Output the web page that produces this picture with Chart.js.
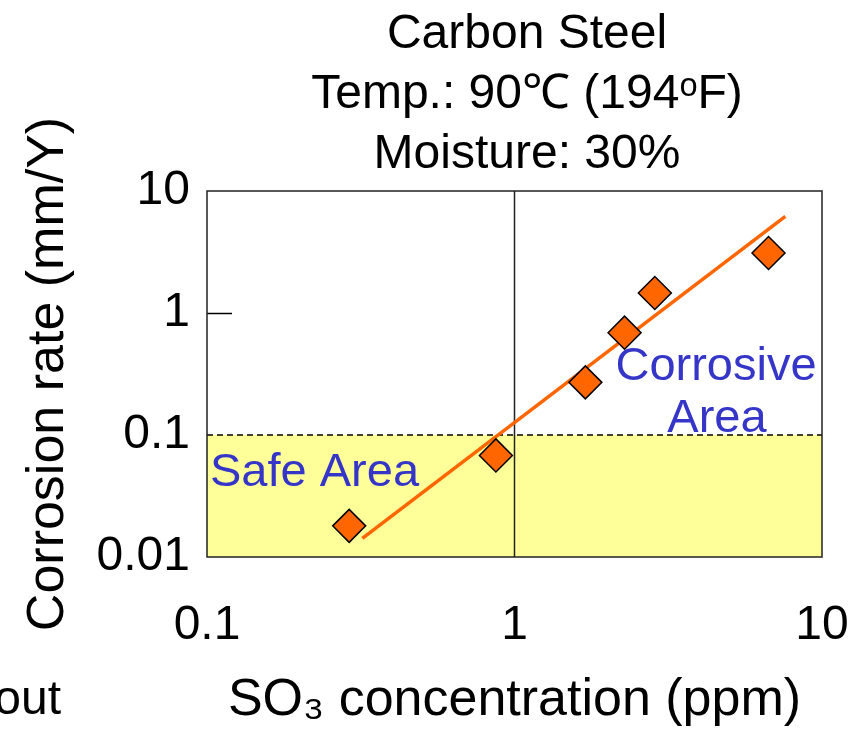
<!DOCTYPE html>
<html>
<head>
<meta charset="utf-8">
<title>Carbon Steel - corrosion rate vs SO3</title>
<script src="https://cdn.jsdelivr.net/npm/chart.js@4.4.0/dist/chart.umd.min.js"></script>
<style>
  html, body { margin: 0; padding: 0; background: #fff; }
  canvas { display: block; }
</style>
</head>
<body>
<canvas id="myChart" width="867" height="732"></canvas>
<script>
const titleLines = ["Carbon Steel", "Temp.: 90℃ (194ᵒF)", "Moisture: 30%"];
const xTickValues = [0.1, 1, 10];
const yTickValues = [0.01, 0.1, 1, 10];

// measured points (ppm, mm/Y)
const so3Ppm = [0.29, 0.87, 1.70, 2.28, 2.86, 6.7];
const corrosionRate = [0.018, 0.068, 0.27, 0.69, 1.46, 3.1];

// fitted trend line, two ends
const trendPpm = [0.32, 7.6];
const trendRate = [0.0142, 6.2];

// safe limit and the 1 ppm reference
const safeLimit = 0.1;
const refPpm = 1;

const FONT = "'Liberation Sans', Arial, Helvetica, sans-serif";
const ORANGE = "#FF6600";
const YELLOW = "#FFFF99";
const BLUE = "#3535C8";

function zip(xs, ys) {
  return xs.map((x, i) => ({ x: x, y: ys[i] }));
}

const decor = {
  id: "decor",
  afterDatasetsDraw(chart) {
    const ctx = chart.ctx;
    const a = chart.chartArea;
    ctx.save();
    ctx.strokeStyle = "#222";
    ctx.lineWidth = 1.5;
    ctx.strokeRect(a.left, a.top, a.right - a.left, a.bottom - a.top);

    // area labels
    ctx.fillStyle = BLUE;
    ctx.font = "47px " + FONT;
    ctx.textBaseline = "alphabetic";
    ctx.textAlign = "left";
    ctx.fillText("Safe Area", a.left + 3, 486);
    ctx.textAlign = "center";
    ctx.fillText("Corrosive", 716, 380);
    ctx.fillText("Area", 717, 432);
    ctx.restore();
  },
  afterDraw(chart) {
    const ctx = chart.ctx;
    ctx.save();
    ctx.fillStyle = "#000";
    ctx.font = "48px " + FONT;
    ctx.textAlign = "center";
    ctx.textBaseline = "alphabetic";
    titleLines.forEach((t, i) => {
      ctx.fillText(t, 527, 48 + i * 60);
    });
    // fragment of neighbouring slide text
    ctx.textAlign = "right";
    ctx.fillText("about", 61, 714);
    ctx.restore();
  }
};

const ctx = document.getElementById("myChart").getContext("2d");
new Chart(ctx, {
  type: "scatter",
  data: {
    datasets: [
      {
        label: "Corrosion rate",
        data: zip(so3Ppm, corrosionRate),
        pointStyle: "rectRot",
        pointRadius: 16.5,
        backgroundColor: ORANGE,
        borderColor: "#000",
        borderWidth: 1.5,
        showLine: false,
        order: 1
      },
      {
        label: "Trend",
        data: zip(trendPpm, trendRate),
        showLine: true,
        borderColor: ORANGE,
        borderWidth: 3.5,
        pointRadius: 0,
        order: 2
      },
      {
        label: "1 ppm",
        data: [{ x: refPpm, y: yTickValues[0] }, { x: refPpm, y: yTickValues[yTickValues.length - 1] }],
        showLine: true,
        borderColor: "#222",
        borderWidth: 1.5,
        pointRadius: 0,
        order: 4
      },
      {
        label: "Safe area",
        data: [{ x: xTickValues[0], y: safeLimit }, { x: xTickValues[xTickValues.length - 1], y: safeLimit }],
        showLine: true,
        fill: "start",
        backgroundColor: YELLOW,
        borderColor: "#000",
        borderWidth: 1.5,
        borderDash: [6, 4],
        pointRadius: 0,
        order: 5
      }
    ]
  },
  options: {
    responsive: false,
    devicePixelRatio: 1,
    animation: false,
    layout: { padding: { top: 191, right: 45, bottom: 0, left: 0 } },
    plugins: {
      legend: { display: false },
      tooltip: { enabled: false },
      title: { display: false }
    },
    scales: {
      x: {
        type: "logarithmic",
        position: "bottom",
        min: 0.1,
        max: 10,
        afterBuildTicks: s => { s.ticks = xTickValues.map(v => ({ value: v })); },
        afterFit: s => { s.height = 175; s.paddingLeft = 0; s.paddingRight = 0; },
        grid: { display: false },
        border: { display: false },
        ticks: {
          color: "#000",
          font: { family: FONT, size: 48 },
          padding: 32,
          maxRotation: 0,
          autoSkip: false,
          callback: v => String(v)
        },
        title: {
          display: true,
          text: "SO₃ concentration (ppm)",
          color: "#000",
          font: { family: FONT, size: 52, lineHeight: 1 },
          padding: { top: 0, bottom: 5 }
        }
      },
      y: {
        type: "logarithmic",
        position: "left",
        min: 0.01,
        max: 10,
        afterBuildTicks: s => { s.ticks = yTickValues.map(v => ({ value: v })); },
        afterFit: s => { s.width = 207; s.paddingTop = 0; s.paddingBottom = 0; },
        grid: {
          display: true,
          drawOnChartArea: false,
          drawTicks: true,
          tickLength: -25,
          tickWidth: 1.5,
          tickColor: c => (c.tick && c.tick.value === 1 ? "#000" : "rgba(0,0,0,0)")
        },
        border: { display: false },
        ticks: {
          color: "#000",
          font: { family: FONT, size: 48 },
          padding: 42,
          autoSkip: false,
          callback: v => String(v)
        },
        title: {
          display: true,
          text: "Corrosion rate (mm/Y)",
          color: "#000",
          font: { family: FONT, size: 52, lineHeight: 1 },
          padding: { top: 23, bottom: 0 }
        }
      }
    }
  },
  plugins: [decor]
});
</script>
</body>
</html>
